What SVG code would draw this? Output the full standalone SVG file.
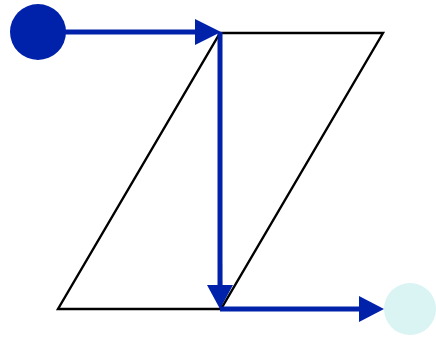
<svg xmlns="http://www.w3.org/2000/svg" width="436" height="337" viewBox="0 0 436 337">
<style>
.edge{fill:none;stroke:#000;stroke-width:2.4;stroke-linejoin:miter}
.flow{fill:none;stroke:#0022aa;stroke-width:5}
.head{fill:#0022aa}
</style>
<rect width="436" height="337" fill="#fff"/>
<g id="shape">
<polygon class="edge" points="58,309 221,309 383,33 220,33"/>
<line class="edge" x1="221" y1="309" x2="220" y2="33"/>
</g>
<g id="start"><circle cx="38" cy="32" r="28" fill="#0022aa"/></g>
<g id="end"><circle cx="410" cy="309" r="26" fill="#daf4f4"/></g>
<g id="connectors">
<line class="flow" x1="60" y1="32" x2="198" y2="32"/>
<polygon class="head" points="195,19 221,32 195,45"/>
<line class="flow" x1="220" y1="32" x2="220" y2="288"/>
<polygon class="head" points="207,285 233,285 220,309"/>
<line class="flow" x1="220" y1="309" x2="362" y2="309"/>
<polygon class="head" points="359,296 384,309 359,322"/>
</g>
</svg>
